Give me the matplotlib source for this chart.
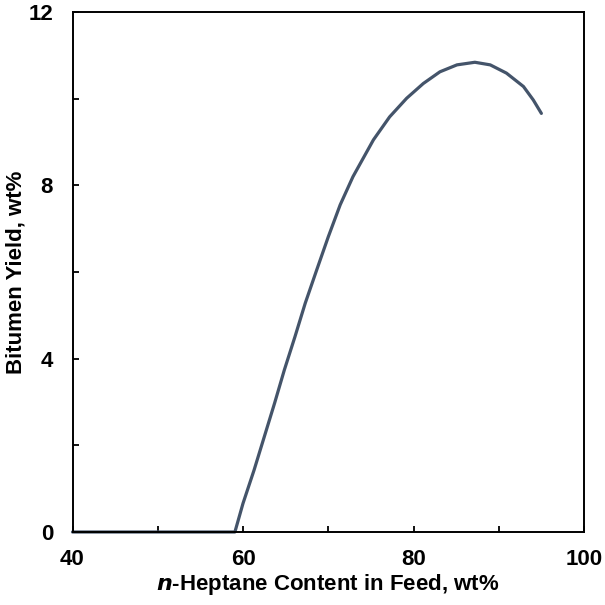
import numpy as np
import matplotlib as mpl
mpl.use('Agg')
import matplotlib.pyplot as plt
from matplotlib.ticker import MultipleLocator

plt.rcParams['font.family'] = ['Liberation Sans', 'DejaVu Sans']
plt.rcParams['font.weight'] = 'bold'

# --- values
heptane = [40.0, 50.0, 59.05, 60.0, 61.3, 62.5, 63.7, 64.85, 66.1, 67.3,
           68.65, 70.0, 71.4, 72.9, 75.3, 77.2, 79.2, 81.15, 83.1,
           85.1, 87.2, 89.0, 90.9, 92.9, 94.05, 95.0]
yield_wt = [0.0, 0.0, 0.0, 0.66, 1.43, 2.20, 2.97, 3.74, 4.51, 5.28,
            6.05, 6.81, 7.55, 8.20, 9.05, 9.58, 10.01, 10.35, 10.62,
            10.78, 10.84, 10.78, 10.59, 10.28, 9.97, 9.66]

x_major = [40, 60, 80, 100]
y_major = [0, 4, 8, 12]

fig = plt.figure(figsize=(6.05, 6.05), dpi=100)
ax = fig.add_axes([72.5/605, 1-532/605, (584-72.5)/605, (532-12)/605])

ax.plot(heptane, yield_wt, c='#44546A', lw=2.3, solid_capstyle='round',
        solid_joinstyle='round', clip_on=False)

ax.set_xlim(40, 100)
ax.set_ylim(0, 12)
ax.set_xticks(x_major)
ax.set_yticks(y_major)
ax.xaxis.set_minor_locator(MultipleLocator(10))
ax.yaxis.set_minor_locator(MultipleLocator(2))

for s in ax.spines.values():
    s.set_linewidth(1.4)

ax.tick_params(which='both', direction='in', length=4, width=1.3,
               labelsize=16, pad=12)
ax.tick_params(axis='y', pad=14)

ax.set_xlabel(r'$\bf\it{n}$-Heptane Content in Feed, wt%', fontsize=16,
              fontweight='bold', labelpad=2)
ax.set_ylabel('Bitumen Yield, wt%', fontsize=16, fontweight='bold', labelpad=1)

fig.savefig('out.png', dpi=100)
